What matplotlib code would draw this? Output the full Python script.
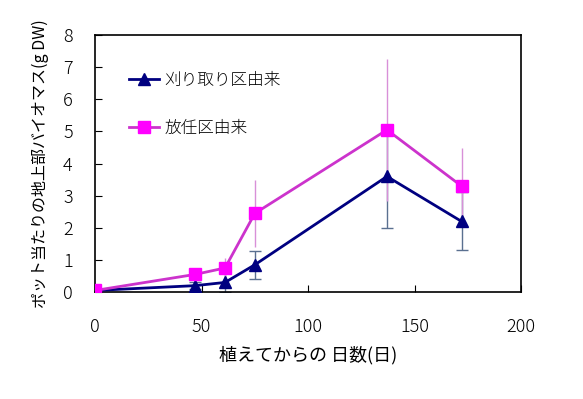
import matplotlib.pyplot as plt

plt.rcParams['font.family'] = ['Noto Sans CJK JP', 'DejaVu Sans']
plt.rcParams['font.weight'] = 'light'

days = [0, 47, 61, 75, 137, 172]
karitori = [0.05, 0.2, 0.3, 0.85, 3.6, 2.2]
karitori_err = [0.0, 0.1, 0.3, 0.43, 1.6, 0.9]
hounin = [0.05, 0.55, 0.75, 2.45, 5.05, 3.3]
hounin_err = [0.0, 0.1, 0.3, 1.05, 2.2, 1.2]

fig = plt.figure(figsize=(5.83, 3.99), dpi=100)
ax = fig.add_axes([0.163, 0.268, 0.731, 0.644])

ax.errorbar(days, karitori, yerr=karitori_err, fmt='none', ecolor='#5a7090', elinewidth=1, capsize=4, zorder=1)
ax.errorbar(days, hounin, yerr=hounin_err, fmt='none', ecolor='#d890d8', elinewidth=1, capsize=0, zorder=1)
ax.plot(days, karitori, color='#000080', lw=2, marker='^', ms=9, label='刈り取り区由来', zorder=3)
ax.plot(days, hounin, color='#cc33cc', lw=2, marker='s', ms=9, mfc='#ff00ff', mec='#ff00ff',
        label='放任区由来', zorder=3)

ax.set_xlim(0, 200)
ax.set_ylim(0, 8)
ax.set_xticks([0, 50, 100, 150, 200])
ax.set_yticks(range(9))
ax.tick_params(direction='in', labelsize=13, length=5)
ax.tick_params(axis='x', pad=19)
ax.tick_params(axis='y', pad=16)
for s in ax.spines.values():
    s.set_linewidth(1.2)

ax.set_xlabel('植えてからの 日数(日)', fontsize=13, labelpad=7)
ax.set_ylabel('ポット当たりの地上部バイオマス(g DW)', fontsize=11.5, labelpad=10)

ax.legend(loc='upper left', bbox_to_anchor=(0.045, 0.915), frameon=False, fontsize=12,
          labelspacing=1.85, handlelength=1.8, handletextpad=0.3)

fig.savefig('out.png', dpi=100)
